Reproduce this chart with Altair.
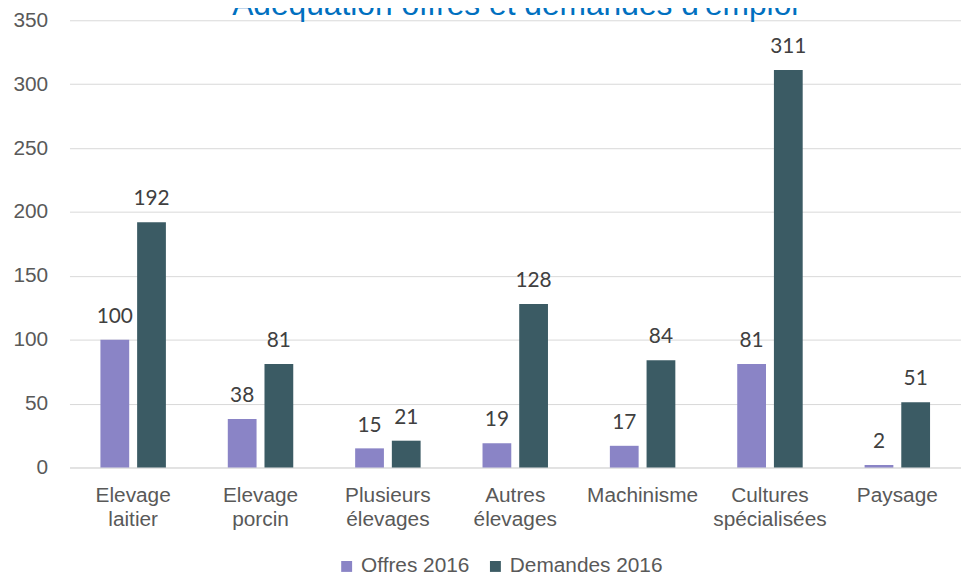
import altair as alt
import pandas as pd

# ---- data ----
categories = ["Elevage\nlaitier", "Elevage\nporcin", "Plusieurs\nélevages", "Autres\nélevages",
              "Machinisme", "Cultures\nspécialisées", "Paysage"]
offres = [100, 38, 15, 19, 17, 81, 2]
demandes = [192, 81, 21, 128, 84, 311, 51]
series = ["Offres 2016", "Demandes 2016"]
colors = ["#8A84C6", "#3B5B64"]
y_ticks = [0, 50, 100, 150, 200, 250, 300, 350]
title_text = "Adéquation offres et demandes d'emploi"

rows = []
for c, o, d in zip(categories, offres, demandes):
    rows.append({"cat": c, "serie": series[0], "val": o})
    rows.append({"cat": c, "serie": series[1], "val": d})
df = pd.DataFrame(rows)

W, H = 899, 451
AXIS_FONT = "Liberation Sans"

x_enc = alt.X(
    "cat:N", sort=categories,
    scale=alt.Scale(paddingInner=0.486, paddingOuter=0.243),
    axis=alt.Axis(title=None, labelAngle=0, labelExpr="split(datum.label, '\\n')",
                  labelFont=AXIS_FONT, labelFontSize=21, labelColor="#595959",
                  labelPadding=17, labelLineHeight=24, domainColor="#D9D9D9",
                  domainWidth=1, ticks=False),
)
xoff_enc = alt.XOffset("serie:N", sort=series,
                       scale=alt.Scale(domain=series, paddingInner=0.216, paddingOuter=0))
y_enc = alt.Y(
    "val:Q", scale=alt.Scale(domain=[0, 350], nice=False),
    axis=alt.Axis(title=None, values=y_ticks, grid=True, gridColor="#D9D9D9", gridWidth=1,
                  domain=False, ticks=False, labelPadding=22, labelFont=AXIS_FONT,
                  labelFontSize=21, labelColor="#595959"),
)

base = alt.Chart(df).encode(x=x_enc, xOffset=xoff_enc, y=y_enc)

bars = base.mark_bar().encode(
    color=alt.Color(
        "serie:N", sort=series,
        scale=alt.Scale(domain=series, range=colors),
        legend=alt.Legend(title=None, orient="none", legendX=269, legendY=540,
                          direction="horizontal", symbolType="square", symbolSize=121,
                          symbolStrokeWidth=0, labelFont=AXIS_FONT, labelFontSize=21,
                          labelColor="#595959", labelOffset=4, columnPadding=15),
    )
)

labels = base.mark_text(baseline="alphabetic", dy=-17, fontSize=21, font="Lato",
                        color="#404040").encode(text="val:Q")

title = alt.Chart(pd.DataFrame({"t": [title_text]})).mark_text(
    fontSize=32, font="Liberation Sans", color="#0070C0", baseline="alphabetic", align="center"
).encode(text="t:N", x=alt.value(W / 2), y=alt.value(-5))

chart = alt.layer(bars, labels, title).properties(
    width=W, height=H,
    autosize=alt.AutoSizeParams(type="none"),
    padding={"left": 62, "top": 10, "right": 0, "bottom": 107},
    background="white",
).configure_view(stroke=None)

chart.save("out.html", embed_options={"renderer": "svg", "actions": False})
